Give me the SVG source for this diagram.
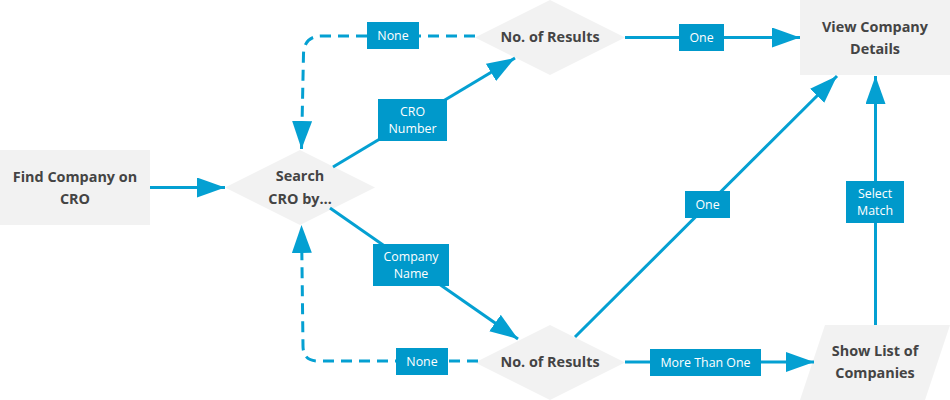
<svg xmlns="http://www.w3.org/2000/svg" width="950" height="400" viewBox="0 0 950 400">
<style>
.node{fill:#f2f2f2;}
.nt{font-family:"Open Sans","Noto Sans","Liberation Sans",sans-serif;font-weight:bold;font-size:14.4px;fill:#444444;text-anchor:middle;}
.ln{fill:none;stroke:#04a0d2;stroke-width:3;}
.dash{stroke-dasharray:11 7;}
.lb{fill:#0099cb;}
.lt{font-family:"Open Sans","Noto Sans","Liberation Sans",sans-serif;font-size:12.4px;fill:#ffffff;text-anchor:middle;}
</style>
<defs>
<marker id="ah" markerUnits="userSpaceOnUse" markerWidth="30" markerHeight="22" refX="28" refY="10" orient="auto">
<path d="M0,0 L28,10 L0,20 Z" fill="#04a0d2"/>
</marker>
</defs>
<rect width="950" height="400" fill="#ffffff"/>

<g id="find">
<rect class="node" x="0" y="150" width="150" height="75"/>
<text class="nt" x="75" y="182">Find Company on</text>
<text class="nt" x="75" y="204">CRO</text>
</g>

<g id="search">
<polygon class="node" points="225,187.5 300,150 375,187.5 300,225"/>
<text class="nt" x="300" y="181">Search</text>
<text class="nt" x="300" y="204">CRO by…</text>
</g>

<g id="results-top">
<polygon class="node" points="475,37.5 550,0 625,37.5 550,75"/>
<text class="nt" x="550" y="42">No. of Results</text>
</g>

<g id="view-details">
<rect class="node" x="800" y="0" width="150" height="75"/>
<text class="nt" x="875" y="32">View Company</text>
<text class="nt" x="875" y="54">Details</text>
</g>

<g id="results-bottom">
<polygon class="node" points="475,362.5 550,325 625,362.5 550,400"/>
<text class="nt" x="550" y="367">No. of Results</text>
</g>

<g id="show-list">
<polygon class="node" points="825,325 950,325 925,400 800,400"/>
<text class="nt" x="875" y="356">Show List of</text>
<text class="nt" x="875" y="378">Companies</text>
</g>

<g id="connectors">
<line class="ln" x1="150" y1="187.5" x2="225" y2="187.5" marker-end="url(#ah)"/>
<line class="ln" x1="333" y1="167" x2="515" y2="58" marker-end="url(#ah)"/>
<line class="ln" x1="330" y1="208" x2="518" y2="339" marker-end="url(#ah)"/>
<line class="ln" x1="625" y1="37.5" x2="800" y2="37.5" marker-end="url(#ah)"/>
<path class="ln dash" d="M475,36 L322,36 Q304,36 303.5,54 L301.5,149" marker-end="url(#ah)"/>
<path class="ln dash" d="M478,361 L318,361 Q303,361 303,346 L301.5,225" marker-end="url(#ah)"/>
<line class="ln" x1="575" y1="337" x2="837" y2="76" marker-end="url(#ah)"/>
<line class="ln" x1="625" y1="362" x2="814" y2="362" marker-end="url(#ah)"/>
<line class="ln" x1="875.5" y1="325" x2="875.5" y2="76" marker-end="url(#ah)"/>

<rect class="lb" x="378" y="99" width="69" height="42"/>
<text class="lt" x="412.5" y="116">CRO</text>
<text class="lt" x="412.5" y="133">Number</text>

<rect class="lb" x="373" y="244" width="76" height="42"/>
<text class="lt" x="411" y="261">Company</text>
<text class="lt" x="411" y="278">Name</text>

<rect class="lb" x="679" y="24" width="45" height="27"/>
<text class="lt" x="701.5" y="42">One</text>

<rect class="lb" x="367" y="22" width="52" height="27"/>
<text class="lt" x="393" y="40">None</text>

<rect class="lb" x="396" y="348" width="52" height="27"/>
<text class="lt" x="422" y="366">None</text>

<rect class="lb" x="685" y="191" width="45" height="27"/>
<text class="lt" x="707.5" y="209">One</text>

<rect class="lb" x="650" y="349" width="111" height="27"/>
<text class="lt" x="705.5" y="367">More Than One</text>

<rect class="lb" x="846" y="181" width="58" height="42"/>
<text class="lt" x="875" y="198">Select</text>
<text class="lt" x="875" y="215">Match</text>
</g>
</svg>
